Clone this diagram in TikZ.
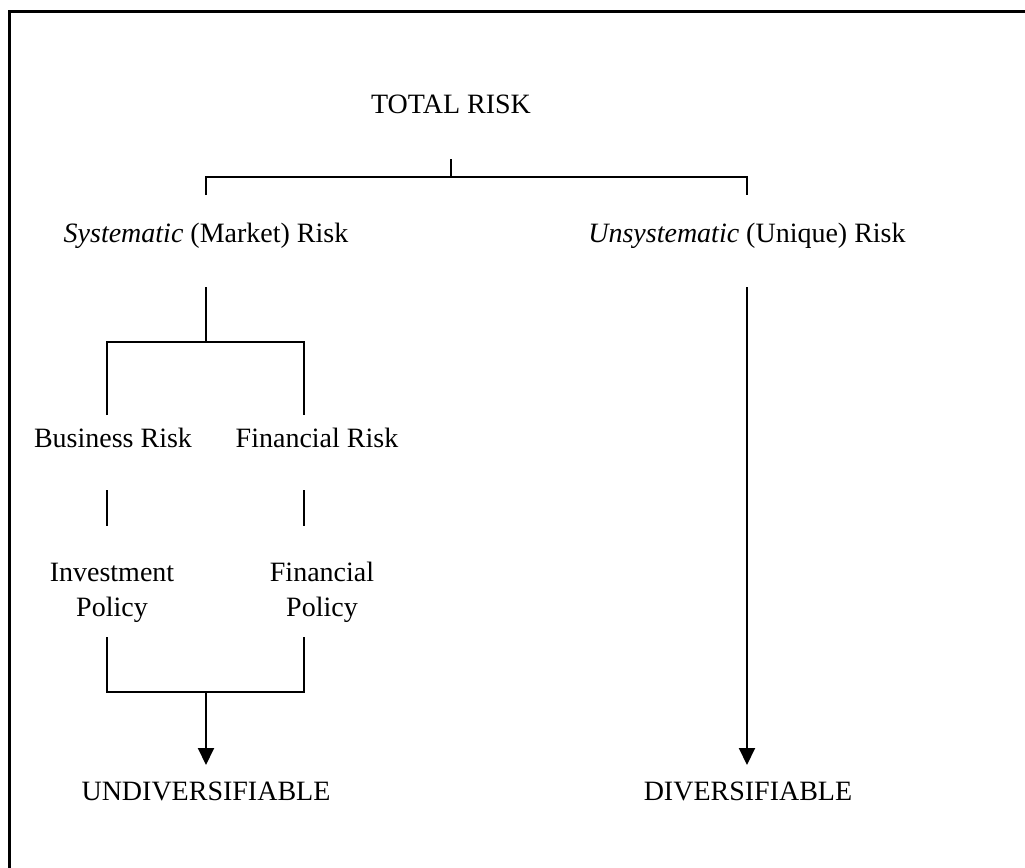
\documentclass[tikz,border=0pt]{standalone}
\usepackage{fontspec}
\setmainfont{Liberation Serif}
\usetikzlibrary{arrows.meta}

\begin{document}
\begin{tikzpicture}[x=0.5pt, y=-0.5pt, line width=1pt,
    lbl/.style={font=\fontsize{14}{17.5}\selectfont, align=center, inner sep=0pt, anchor=base},
    tip/.style={-{Triangle[width=8pt,length=8.5pt]}}]
    \useasboundingbox (0,0) rectangle (1025,868);

    % Frame (top and left edges only)
    \draw[line width=1.5pt] (9,868) -- (9,11) -- (1025,11);

    % Labels
    \node[lbl] (total) at (451,113) {TOTAL RISK};
    \node[lbl] (sys) at (206,242) {\textit{Systematic} (Market) Risk};
    \node[lbl] (unsys) at (747,242) {\textit{Unsystematic} (Unique) Risk};
    \node[lbl] (bus) at (113,447) {Business Risk};
    \node[lbl] (fin) at (317,447) {Financial Risk};
    \node[lbl] (inv) at (112,616) {Investment\\Policy};
    \node[lbl] (fpol) at (322,616) {Financial\\Policy};
    \node[lbl] (undiv) at (206,800) {UNDIVERSIFIABLE};
    \node[lbl] (div) at (748,800) {DIVERSIFIABLE};

    % Junction points
    \coordinate (tTop) at (451,159);
    \coordinate (tMid) at (451,177);
    \coordinate (sysT) at (206,177);
    \coordinate (sysB) at (206,195);
    \coordinate (unsT) at (747,177);
    \coordinate (unsB) at (747,195);

    \coordinate (sTop) at (206,287);
    \coordinate (sMid) at (206,342);
    \coordinate (busT) at (107,342);
    \coordinate (busB) at (107,415);
    \coordinate (finT) at (304,342);
    \coordinate (finB) at (304,415);

    \coordinate (bus1) at (107,490);
    \coordinate (bus2) at (107,526);
    \coordinate (fin1) at (304,490);
    \coordinate (fin2) at (304,526);

    \coordinate (invB) at (107,637);
    \coordinate (invJ) at (107,692);
    \coordinate (fpolB) at (304,637);
    \coordinate (fpolJ) at (304,692);
    \coordinate (uMid) at (206,692);
    \coordinate (uEnd) at (206,765);

    \coordinate (rTop) at (747,287);
    \coordinate (rEnd) at (747,765);

    % Total risk split
    \draw (tTop) -- (tMid);
    \draw (sysB) -- (sysT) -- (unsT) -- (unsB);

    % Systematic branch
    \draw (sTop) -- (sMid);
    \draw (busB) -- (busT) -- (finT) -- (finB);
    \draw (bus1) -- (bus2);
    \draw (fin1) -- (fin2);
    \draw (invB) -- (invJ) -- (fpolJ) -- (fpolB);
    \draw[tip] (uMid) -- (uEnd);

    % Unsystematic branch
    \draw[tip] (rTop) -- (rEnd);

\end{tikzpicture}
\end{document}
